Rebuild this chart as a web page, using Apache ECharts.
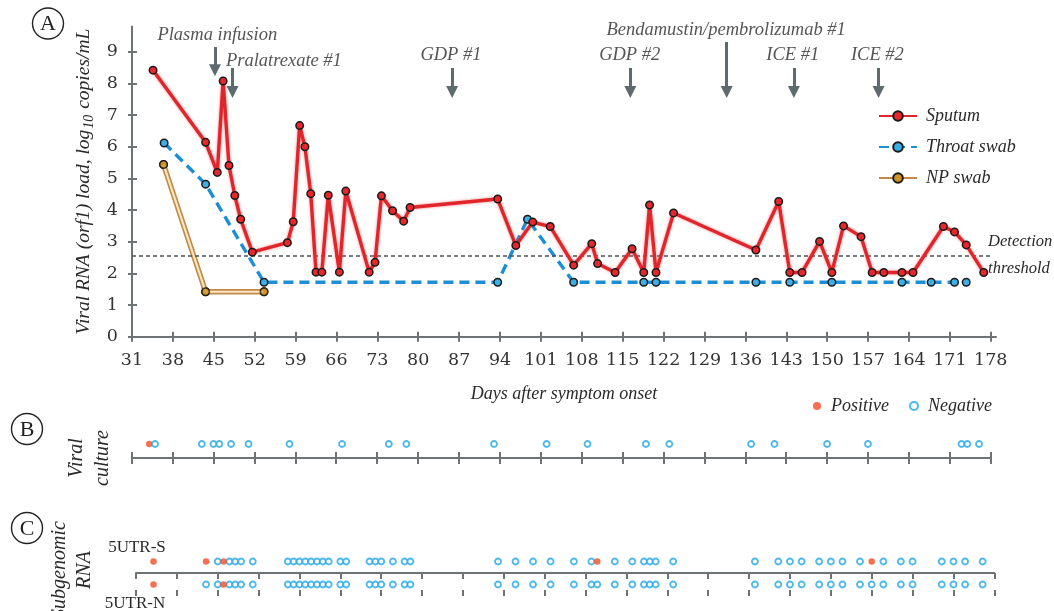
<!DOCTYPE html>
<html><head><meta charset="utf-8">
<script src="https://cdn.jsdelivr.net/npm/echarts@6/dist/echarts.min.js"></script>
<style>html,body{margin:0;padding:0;background:#fff}#c{width:1054px;height:611px}</style>
</head><body><div id="c"></div>
<script>
// ---------- data ----------
const xTicks = [31,38,45,52,59,66,73,80,87,94,101,108,115,122,129,136,143,150,157,164,171,178];
const yTicks = [0,1,2,3,4,5,6,7,8,9];

const sputumDays = [34.6,43.6,45.6,46.6,47.6,48.6,49.6,51.6,57.6,58.6,59.7,60.6,61.6,62.5,63.5,64.6,66.5,67.6,71.6,72.6,73.7,75.6,77.5,78.6,93.6,96.7,99.6,102.6,106.6,109.7,110.7,113.7,116.6,118.6,119.6,120.7,123.7,137.8,141.7,143.6,145.7,148.7,150.8,152.8,155.8,157.7,159.7,162.8,164.7,169.9,171.8,173.8,176.8];
const sputumLoad = [8.42,6.14,5.19,8.08,5.41,4.46,3.71,2.67,2.97,3.63,6.67,6.00,4.52,2.04,2.04,4.47,2.04,4.60,2.04,2.35,4.45,3.98,3.65,4.08,4.35,2.88,3.62,3.48,2.26,2.94,2.31,2.03,2.78,2.03,4.16,2.03,3.91,2.74,4.27,2.03,2.03,3.01,2.03,3.50,3.16,2.03,2.03,2.03,2.03,3.48,3.31,2.90,2.03];

const throatDays = [36.5,43.6,53.6,93.6,98.7,106.6,118.6,120.7,137.8,143.6,150.8,162.8,167.8,171.8,173.8];
const throatLoad = [6.12,4.82,1.72,1.72,3.71,1.72,1.72,1.72,1.72,1.72,1.72,1.72,1.72,1.72,1.72];

const npDays = [36.4,43.6,53.6];
const npLoad = [5.44,1.42,1.42];

const detectionThreshold = 2.57;

const treatments = ['Plasma infusion','Pralatrexate #1','GDP #1','GDP #2','Bendamustin/pembrolizumab #1','ICE #1','ICE #2'];
const treatmentDays = [45.2,48.2,85.8,116.3,132.8,144.3,158.8];

const culturePositive = [34];
const cultureNegative = [35,43,45,46,48,51,58,67,75,78,93,102,109,119,123,137,141,150,157,173,174,176];

const sgS_positive = [34,43,46,110,157];
const sgS_negative = [45,47,48,49,51,57,58,59,60,61,62,63,64,66,67,71,72,73,75,77,78,93,96,99,102,106,109,113,116,118,119,120,123,137,141,143,145,148,150,152,155,159,162,164,169,171,173,176];
const sgN_positive = [34,46];
const sgN_negative = [43,45,47,48,49,51,57,58,59,60,61,62,63,64,66,67,71,72,73,75,77,78,93,96,99,102,106,109,110,113,116,118,119,120,123,137,141,143,145,148,150,152,155,157,159,162,164,169,171,173,176];

// ---------- styles ----------
const AX = '#6e7476';
const TXT = '#2a2a2a';
const SERIF_I = {fontFamily:'Liberation Serif', fontStyle:'italic', color:TXT};
const pair = (xs, ys) => xs.map((x,i)=>[x, ys[i]]);
const row = (xs, v) => xs.map(x=>[x, v]);

// annotation layout (text anchor and arrow extents, in axis units)
const annotTextDay = [45.6, 57.0, 85.6, 116.2, 132.7, 144.1, 158.6];
const annotTextVal = [9.53, 8.69, 8.90, 8.90, 9.69, 8.90, 8.90];
const arrowTop = [9.15, 8.49, 8.49, 8.49, 9.31, 8.49, 8.49];
const arrowEnd = [8.42, 7.73, 7.73, 7.73, 7.73, 7.73, 7.73];

const posStyle = {color:'#f04e26'};
const negStyle = {color:'#ffffff', borderColor:'#1fa6e6', borderWidth:1.8};

function xAxisPair(grid, min, max, opts, len) {
  len = len || 6;
  const main = Object.assign({
    gridIndex: grid, type:'value', min, max, position:'bottom',
    axisLine:{show:true, onZero:true, lineStyle:{color:AX, width:2}},
    axisTick:{show:true, inside:false, length:len, customValues:xTicks, lineStyle:{color:AX, width:2}},
    axisLabel:{show:false, customValues:xTicks},
    splitLine:{show:false}
  }, opts || {});
  const inner = {
    gridIndex: grid, type:'value', min, max, position:'bottom',
    axisLine:{show:false, onZero:true},
    axisTick:{show:true, inside:true, length:len, customValues:xTicks, lineStyle:{color:AX, width:2}},
    axisLabel:{show:false}, splitLine:{show:false}
  };
  return [main, inner];
}

const chart = echarts.init(document.getElementById('c'), null, {renderer:'canvas'});

const xA = xAxisPair(0, 31, 178.9, {
  axisLabel:{show:true, customValues:xTicks, margin:15, fontFamily:'DejaVu Serif', fontSize:17.5, color:'#333'},
  name:'Days after symptom onset', nameLocation:'middle', nameGap:49,
  nameTextStyle:Object.assign({fontSize:18}, SERIF_I)
}, 5);
const xB = xAxisPair(1, 31, 178);
const xC = xAxisPair(2, 31, 178);

const option = {
  animation:false,
  backgroundColor:'#fff',
  grid:[
    {left:132, right:58, top:26.5, height:310.2},
    {left:131.7, right:63.3, top:430, height:28},
    {left:136, right:59.7, top:550, height:46}
  ],
  xAxis:[xA[0], xA[1], xB[0], xB[1], xC[0], xC[1]],
  yAxis:[
    {gridIndex:0, type:'value', min:0, max:9.8, position:'left',
     axisLine:{show:true, lineStyle:{color:AX, width:2}},
     axisTick:{show:true, inside:false, length:4, customValues:yTicks, lineStyle:{color:AX, width:2}},
     axisLabel:{show:true, customValues:yTicks, margin:14, fontFamily:'DejaVu Serif', fontSize:17.5, color:'#333'},
     splitLine:{show:false},
     name:'{i|Viral RNA (orf1) load, log}{s|10}{i| copies/mL}',
     nameLocation:'middle', nameGap:32,
     nameTextStyle:{rich:{
       i:Object.assign({fontSize:19.5, lineHeight:24}, SERIF_I),
       s:Object.assign({fontSize:14, verticalAlign:'bottom', padding:[0,1,0,1]}, SERIF_I)
     }}
    },
    {gridIndex:0, type:'value', min:0, max:9.8, position:'left',
     axisLine:{show:false},
     axisTick:{show:true, inside:true, length:5, customValues:yTicks, lineStyle:{color:AX, width:2}},
     axisLabel:{show:false}, splitLine:{show:false}},
    {gridIndex:1, type:'value', min:0, max:1, show:false},
    {gridIndex:2, type:'value', min:-1, max:1, show:false}
  ],
  legend:[
    {data:['Sputum','Throat swab','NP swab'], orient:'vertical', left:873, top:102,
     itemWidth:38, itemHeight:12, itemGap:13, selectedMode:false,
     textStyle:Object.assign({fontSize:18, padding:[0,0,0,4]}, SERIF_I)},
    {data:['Positive','Negative'], orient:'horizontal', left:808, top:392,
     itemWidth:8, itemHeight:8, itemGap:20, selectedMode:false,
     textStyle:Object.assign({fontSize:18, padding:[0,0,0,5]}, SERIF_I)}
  ],
  series:[
    // Panel A
    {name:'Throat swab', type:'line', xAxisIndex:0, yAxisIndex:0, data:pair(throatDays, throatLoad),
     symbol:'circle', symbolSize:7.5, z:3,
     lineStyle:{color:'#1b8fd6', width:3.4, type:[10,6]},
     itemStyle:{color:'#3cb0e6', borderColor:'#1a1a1a', borderWidth:1.5},
     markLine:{silent:true, symbol:['none','none'], label:{show:true, position:'end', distance:-5,
        formatter:'Detection\nthreshold', fontSize:16.5, lineHeight:27, fontFamily:'Liberation Serif', fontStyle:'italic', color:TXT},
        lineStyle:{color:'#4b5356', width:1.5, type:[4,3]},
        emphasis:{disabled:true},
        data:[[{coord:[31, detectionThreshold]},{coord:[178.4, detectionThreshold]}]]}
    },
    {name:'NP swab', type:'line', xAxisIndex:0, yAxisIndex:0, data:pair(npDays, npLoad),
     symbol:'circle', symbolSize:7.5, z:2,
     lineStyle:{color:'#c48a45', width:5.5},
     itemStyle:{color:'#cf9323', borderColor:'#1a1a1a', borderWidth:1.5}},
    {name:'npInner', type:'line', xAxisIndex:0, yAxisIndex:0, data:pair(npDays, npLoad),
     showSymbol:false, symbol:'none', z:3, silent:true,
     lineStyle:{color:'#f7e6c8', width:2.2}},
    {name:'npPoints', type:'scatter', xAxisIndex:0, yAxisIndex:0, data:pair(npDays, npLoad),
     symbol:'circle', symbolSize:7.5, z:4, silent:true,
     itemStyle:{color:'#cf9323', borderColor:'#1a1a1a', borderWidth:1.5}},
    {name:'Sputum', type:'line', xAxisIndex:0, yAxisIndex:0, data:pair(sputumDays, sputumLoad),
     symbol:'circle', symbolSize:7.5, z:5,
     lineStyle:{color:'#e1262b', width:3.4, shadowColor:'rgba(232,60,60,0.6)', shadowBlur:3},
     itemStyle:{color:'#e8262b', borderColor:'#1a1a1a', borderWidth:1.5}},
    {name:'annotations', type:'scatter', xAxisIndex:0, yAxisIndex:0,
     data:treatments.map((t,i)=>({name:t, value:[annotTextDay[i], annotTextVal[i]]})),
     symbolSize:1, itemStyle:{color:'rgba(0,0,0,0)'}, silent:true, z:6,
     label:{show:true, position:'inside', formatter:'{b}', fontSize:18.5, fontFamily:'Liberation Serif', fontStyle:'italic', color:TXT},
     markLine:{silent:true, symbol:['none','triangle'], symbolSize:12,
       label:{show:false}, emphasis:{disabled:true},
       lineStyle:{color:'#5d6a6e', width:3, type:'solid'},
       data:treatmentDays.map((d,i)=>[{coord:[d, arrowTop[i]]},{coord:[d, arrowEnd[i]]}])}
    },
    // Panel B
    {name:'Negative', type:'scatter', xAxisIndex:2, yAxisIndex:2, data:row(cultureNegative, 0.5),
     symbol:'circle', symbolSize:6, itemStyle:negStyle},
    {name:'Positive', type:'scatter', xAxisIndex:2, yAxisIndex:2, data:row(culturePositive, 0.5),
     symbol:'circle', symbolSize:6.5, itemStyle:posStyle, z:1},
    // Panel C
    {name:'Negative', type:'scatter', xAxisIndex:4, yAxisIndex:3, data:row(sgS_negative, 0.5).concat(row(sgN_negative, -0.5)),
     symbol:'circle', symbolSize:6, itemStyle:negStyle},
    {name:'Positive', type:'scatter', xAxisIndex:4, yAxisIndex:3, data:row(sgS_positive, 0.5).concat(row(sgN_positive, -0.5)),
     symbol:'circle', symbolSize:6.5, itemStyle:posStyle, z:3}
  ],
  graphic:[
    {type:'circle', shape:{cx:48, cy:23.5, r:15.5}, style:{fill:'none', stroke:'#222', lineWidth:1.4}},
    {type:'text', x:48, y:24, style:{text:'A', font:'22px "Liberation Serif"', fill:'#222', align:'center', verticalAlign:'middle'}},
    {type:'circle', shape:{cx:27, cy:429, r:15.5}, style:{fill:'none', stroke:'#222', lineWidth:1.4}},
    {type:'text', x:27, y:430, style:{text:'B', font:'22px "Liberation Serif"', fill:'#222', align:'center', verticalAlign:'middle'}},
    {type:'circle', shape:{cx:27, cy:528, r:15.5}, style:{fill:'none', stroke:'#222', lineWidth:1.4}},
    {type:'text', x:27, y:529, style:{text:'C', font:'22px "Liberation Serif"', fill:'#222', align:'center', verticalAlign:'middle'}},
    {type:'text', x:89.5, y:458, rotation:Math.PI/2, style:{text:'Viral\nculture', font:'italic 20px "Liberation Serif"', lineHeight:26, fill:TXT, align:'center', verticalAlign:'middle'}},
    {type:'text', x:72.5, y:570, rotation:Math.PI/2, style:{text:'Subgenomic\nRNA', font:'italic 20px "Liberation Serif"', lineHeight:25, fill:TXT, align:'center', verticalAlign:'middle'}},
    {type:'text', x:137, y:548, style:{text:'5UTR-S', font:'17px "Liberation Serif"', fill:TXT, align:'center', verticalAlign:'middle'}},
    {type:'text', x:135, y:604, style:{text:'5UTR-N', font:'17px "Liberation Serif"', fill:TXT, align:'center', verticalAlign:'middle'}}
  ]
};
chart.setOption(option);
</script></body></html>
